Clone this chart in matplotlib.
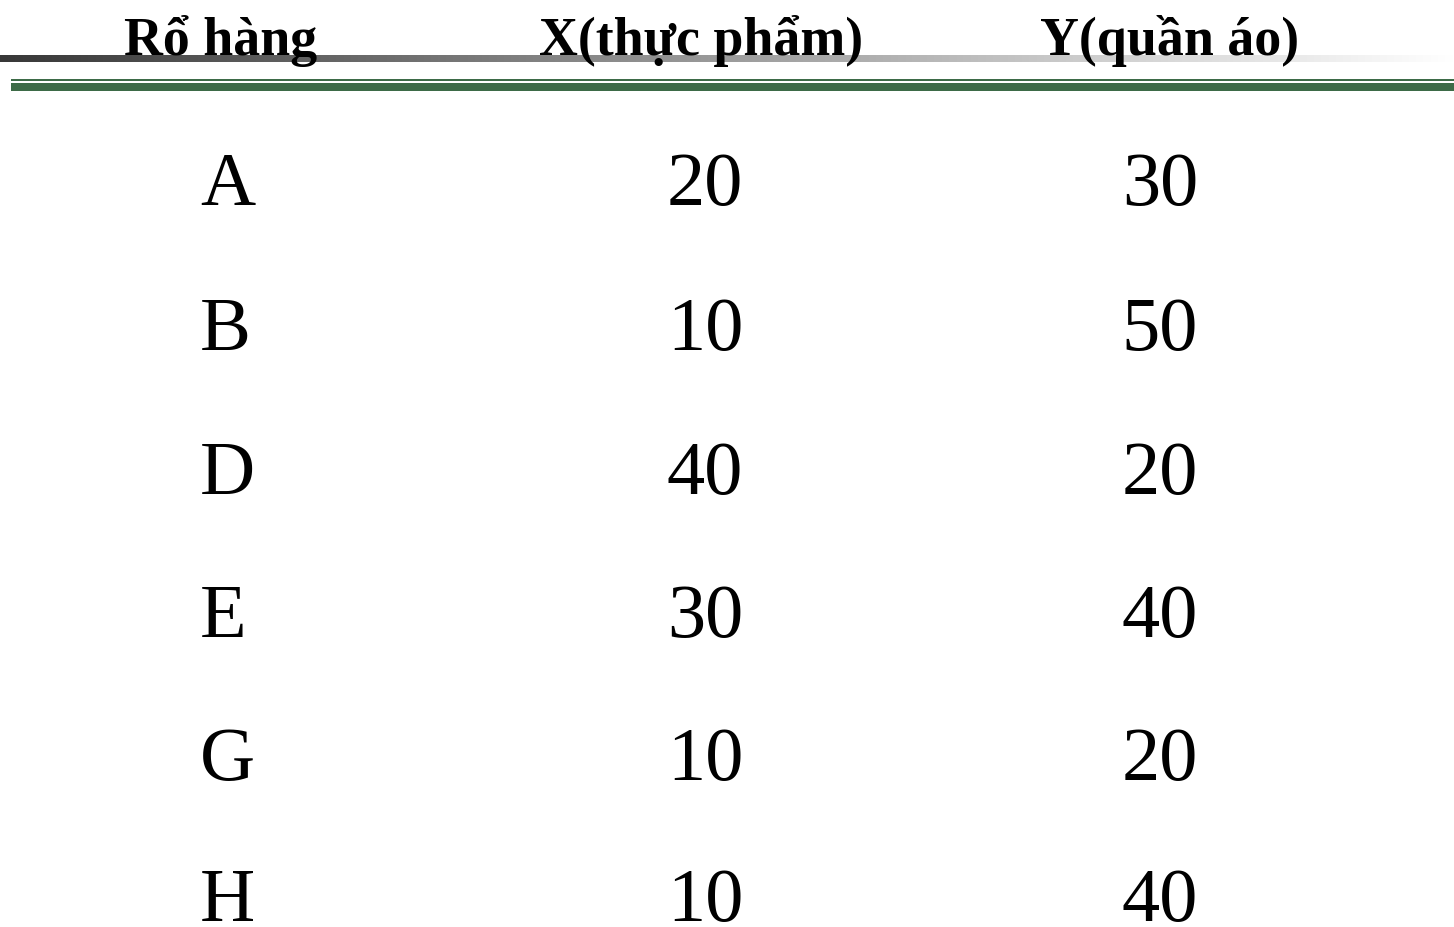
import matplotlib
matplotlib.use("Agg")
import matplotlib.pyplot as plt
import numpy as np

headers = ["Rổ hàng", "X(thực phẩm)", "Y(quần áo)"]
baskets = ["A", "B", "D", "E", "G", "H"]
x_food = [20, 10, 40, 30, 10, 10]
y_clothes = [30, 50, 20, 40, 20, 40]

W, H = 1454, 927
fig = plt.figure(figsize=(W / 100, H / 100), dpi=100)
ax = fig.add_axes([0, 0, 1, 1])
ax.set_xlim(0, W)
ax.set_ylim(H, 0)
ax.axis("off")

# gradient bar
grad = np.linspace(0, 1, 512)
start = np.array([0.22, 0.22, 0.22])
rgb = start[None, :] + (1 - start[None, :]) * grad[:, None]
img = rgb[None, :, :]
ax.imshow(img, extent=[0, W, 62, 55], aspect="auto", zorder=1)

green = "#3d6b47"
ax.fill_between([11, W], 79, 81, color=green, lw=0, zorder=1)
ax.fill_between([11, W], 83, 91, color=green, lw=0, zorder=1)

font = "Liberation Serif"
hx = [221, 701, 1170]
for x, t in zip(hx, headers):
    ax.text(x, 55, t, ha="center", va="baseline", fontsize=38.8, fontweight="bold",
            family=font, color="black", zorder=3)

row_y = [205, 350, 494, 637, 780, 921]
for yy, b, xv, yv in zip(row_y, baskets, x_food, y_clothes):
    ax.text(200, yy, b, ha="left", va="baseline", fontsize=55, family=font, zorder=3)
    ax.text(705, yy, str(xv), ha="center", va="baseline", fontsize=55, family=font, zorder=3)
    ax.text(1160, yy, str(yv), ha="center", va="baseline", fontsize=55, family=font, zorder=3)

fig.savefig("out.png", dpi=100)
